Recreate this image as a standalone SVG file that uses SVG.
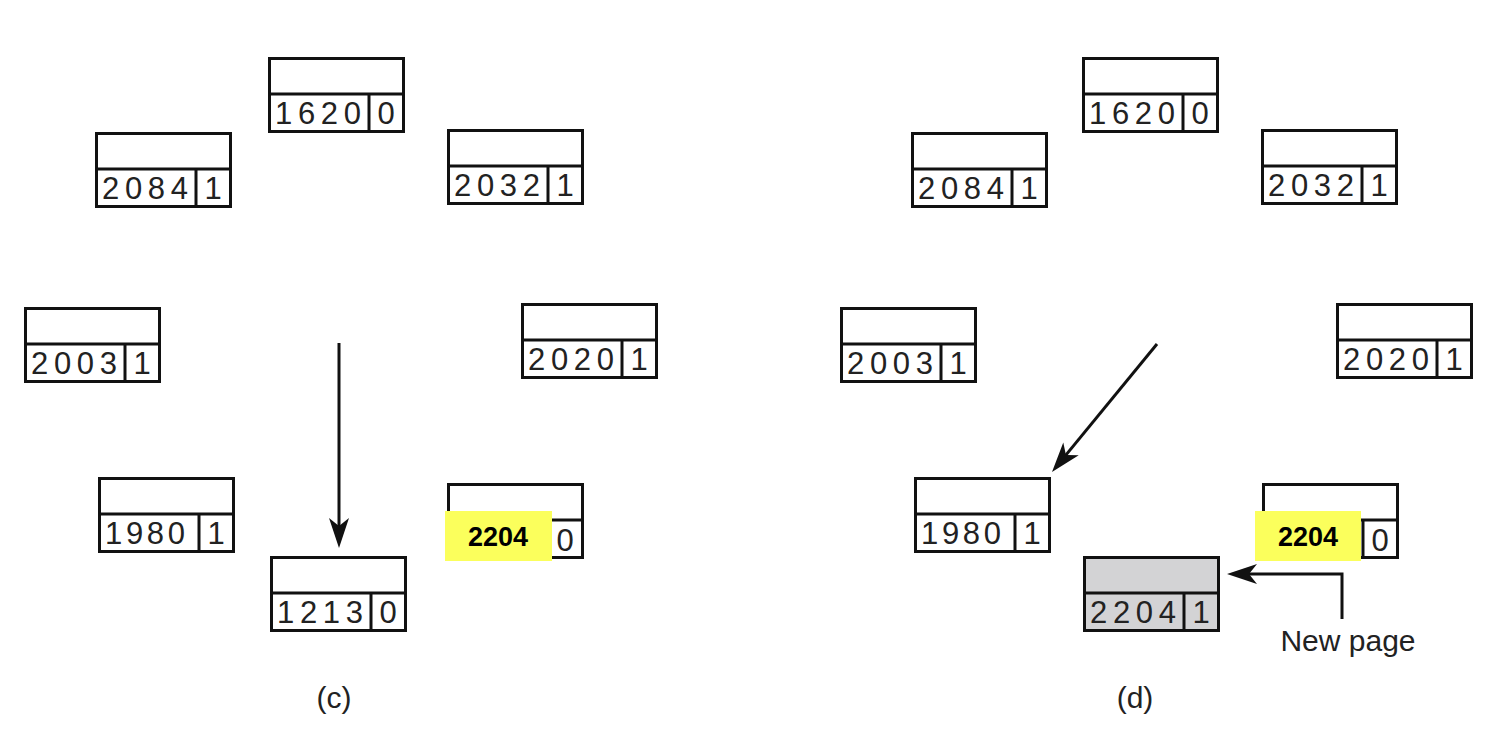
<svg xmlns="http://www.w3.org/2000/svg" width="1494" height="737" viewBox="0 0 1494 737">
<defs>
<style>
.box{fill:#fff;stroke:#111;stroke-width:3}
.gray .box{fill:#d3d3d5}
.ln{stroke:#111;stroke-width:3;fill:none}
.num{font-family:"Liberation Sans",Arial,sans-serif;font-size:31px;fill:#222}
.hl{fill:#fbff5c}
.hlt{font-family:"Liberation Sans",Arial,sans-serif;font-size:27px;font-weight:bold;fill:#000;text-anchor:middle}
.lbl{font-family:"Liberation Sans",Arial,sans-serif;font-size:30px;fill:#222;text-anchor:middle}
.conn{stroke:#111;stroke-width:3;fill:none}
</style>
<marker id="ah" markerUnits="userSpaceOnUse" markerWidth="40" markerHeight="30" refX="0" refY="0" orient="auto" overflow="visible">
<path d="M15,0 L-15,-10 L-7,0 L-15,10 Z" fill="#111"/>
</marker>
<g id="cell">
<rect class="box" x="1.5" y="1.5" width="134" height="73"/>
<line class="ln" x1="1.5" y1="37" x2="135.5" y2="37"/>
<line class="ln" x1="101" y1="37" x2="101" y2="74.5"/>
</g>
</defs>

<g id="c-1620" transform="translate(268,57)"><use href="#cell"/><text class="num" x="7" y="67" textLength="86">1620</text><text class="num" x="118" y="67" text-anchor="middle">0</text></g>
<g id="c-2084" transform="translate(95,132)"><use href="#cell"/><text class="num" x="7" y="67" textLength="86">2084</text><text class="num" x="118" y="67" text-anchor="middle">1</text></g>
<g id="c-2032" transform="translate(447,129)"><use href="#cell"/><text class="num" x="7" y="67" textLength="86">2032</text><text class="num" x="118" y="67" text-anchor="middle">1</text></g>
<g id="c-2003" transform="translate(24,307)"><use href="#cell"/><text class="num" x="7" y="67" textLength="86">2003</text><text class="num" x="118" y="67" text-anchor="middle">1</text></g>
<g id="c-2020" transform="translate(521,303)"><use href="#cell"/><text class="num" x="7" y="67" textLength="86">2020</text><text class="num" x="118" y="67" text-anchor="middle">1</text></g>
<g id="c-1980" transform="translate(98,477)"><use href="#cell"/><text class="num" x="7" y="67" textLength="80">1980</text><text class="num" x="118" y="67" text-anchor="middle">1</text></g>
<g id="c-2204" transform="translate(447,483)"><use href="#cell"/><text class="num" x="118" y="68" text-anchor="middle">0</text><rect class="hl" x="-2" y="28" width="107" height="50"/><text class="hlt" x="51" y="63">2204</text></g>
<g id="c-1213" transform="translate(270,556)"><use href="#cell"/><text class="num" x="7" y="67" textLength="86">1213</text><text class="num" x="118" y="67" text-anchor="middle">0</text></g>

<g id="d-1620" transform="translate(1082,57)"><use href="#cell"/><text class="num" x="7" y="67" textLength="86">1620</text><text class="num" x="118" y="67" text-anchor="middle">0</text></g>
<g id="d-2084" transform="translate(911,132)"><use href="#cell"/><text class="num" x="7" y="67" textLength="86">2084</text><text class="num" x="118" y="67" text-anchor="middle">1</text></g>
<g id="d-2032" transform="translate(1261,129)"><use href="#cell"/><text class="num" x="7" y="67" textLength="86">2032</text><text class="num" x="118" y="67" text-anchor="middle">1</text></g>
<g id="d-2003" transform="translate(840,307)"><use href="#cell"/><text class="num" x="7" y="67" textLength="86">2003</text><text class="num" x="118" y="67" text-anchor="middle">1</text></g>
<g id="d-2020" transform="translate(1336,303)"><use href="#cell"/><text class="num" x="7" y="67" textLength="86">2020</text><text class="num" x="118" y="67" text-anchor="middle">1</text></g>
<g id="d-1980" transform="translate(914,477)"><use href="#cell"/><text class="num" x="7" y="67" textLength="80">1980</text><text class="num" x="118" y="67" text-anchor="middle">1</text></g>
<g id="d-2204" transform="translate(1262,483)"><use href="#cell"/><text class="num" x="118" y="68" text-anchor="middle">0</text><rect class="hl" x="-7" y="28" width="106" height="50"/><text class="hlt" x="46" y="63">2204</text></g>
<g id="d-new" class="gray" transform="translate(1083,556)"><rect class="box" x="1.5" y="1.5" width="134" height="73"/><line class="ln" x1="1.5" y1="37" x2="135.5" y2="37"/><line class="ln" x1="101" y1="37" x2="101" y2="74.5"/><text class="num" x="7" y="67" textLength="86">2204</text><text class="num" x="118" y="67" text-anchor="middle">1</text></g>

<g id="connectors">
<line class="conn" x1="339" y1="343" x2="339" y2="533" marker-end="url(#ah)"/>
<line class="conn" x1="1157" y1="344" x2="1061.5" y2="460.4" marker-end="url(#ah)"/>
<polyline class="conn" points="1342,619 1342,574 1242,574" marker-end="url(#ah)"/>
</g>

<g id="labels">
<text class="lbl" x="1348" y="651">New page</text>
<text class="lbl" x="334" y="708">(c)</text>
<text class="lbl" x="1135" y="708">(d)</text>
</g>
</svg>
